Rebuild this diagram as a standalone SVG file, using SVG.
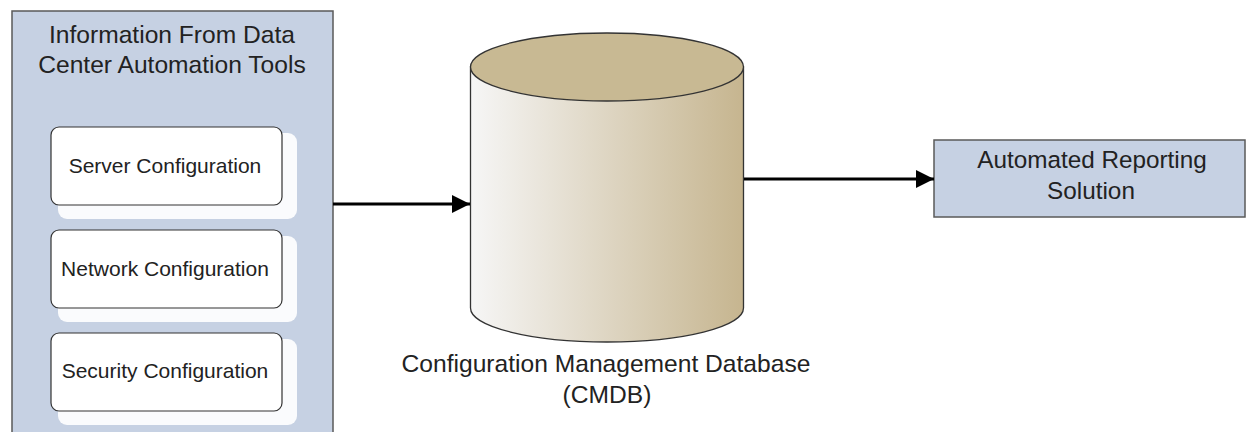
<svg xmlns="http://www.w3.org/2000/svg" width="1248" height="432" viewBox="0 0 1248 432">
  <defs>
    <linearGradient id="cylBody" x1="0" y1="0" x2="1" y2="0">
      <stop offset="0" stop-color="#f6f6f6"/>
      <stop offset="1" stop-color="#c6b58f"/>
    </linearGradient>
    <marker id="arrow" viewBox="0 0 10 10" refX="10" refY="5" markerWidth="6" markerHeight="6.5" markerUnits="strokeWidth" orient="auto">
      <path d="M0,0 L10,5 L0,10 Z" fill="#000"/>
    </marker>
  </defs>
  <style>
    text { font-family: "Liberation Sans", Arial, sans-serif; fill: #222; text-anchor: middle; }
    .panel { fill: #c6d1e3; stroke: #5a5a5a; stroke-width: 1.5; }
    .card { fill: #ffffff; stroke: #333; stroke-width: 1.2; }
    .shadow { fill: #ffffff; opacity: 0.9; }
    .lbl { font-size: 21px; }
    .big { font-size: 24.6px; }
    .conn { stroke: #000; stroke-width: 3; fill: none; marker-end: url(#arrow); }
  </style>

  <rect width="1248" height="432" fill="#ffffff"/>

  <!-- source panel -->
  <g id="sources">
    <rect class="panel" x="12" y="11" width="321" height="440"/>
    <text class="big" x="172" y="43">Information From Data</text>
    <text class="big" x="172" y="73">Center Automation Tools</text>
  </g>

  <g id="server-config">
    <rect class="shadow" x="58" y="133" width="239" height="86" rx="9"/>
    <rect class="card" x="51" y="127" width="231" height="78" rx="8"/>
    <text class="lbl" x="165" y="173">Server Configuration</text>
  </g>

  <g id="network-config">
    <rect class="shadow" x="58" y="236" width="239" height="86" rx="9"/>
    <rect class="card" x="51" y="230" width="231" height="78" rx="8"/>
    <text class="lbl" x="165" y="276">Network Configuration</text>
  </g>

  <g id="security-config">
    <rect class="shadow" x="58" y="339" width="239" height="86" rx="9"/>
    <rect class="card" x="51" y="333" width="231" height="78" rx="8"/>
    <text class="lbl" x="165" y="378">Security Configuration</text>
  </g>

  <!-- database cylinder -->
  <g id="cmdb">
    <path d="M470.5,67 L470.5,308 A136.5,34 0 0 0 743.5,308 L743.5,67 Z" fill="url(#cylBody)" stroke="#333" stroke-width="1.3"/>
    <ellipse cx="607" cy="67" rx="136.5" ry="34" fill="#c8b993" stroke="#333" stroke-width="1.3"/>
    <text class="big" x="606" y="372">Configuration Management Database</text>
    <text class="big" x="607" y="403">(CMDB)</text>
  </g>

  <!-- reporting target -->
  <g id="reporting">
    <rect class="panel" x="934" y="140" width="311" height="77"/>
    <text class="big" x="1092" y="168" style="font-size:24.3px">Automated Reporting</text>
    <text class="big" x="1091" y="199" style="font-size:24.3px">Solution</text>
  </g>

  <g id="connectors">
    <line class="conn" x1="333" y1="204" x2="470" y2="204"/>
    <line class="conn" x1="744" y1="179" x2="934" y2="179"/>
  </g>
</svg>
